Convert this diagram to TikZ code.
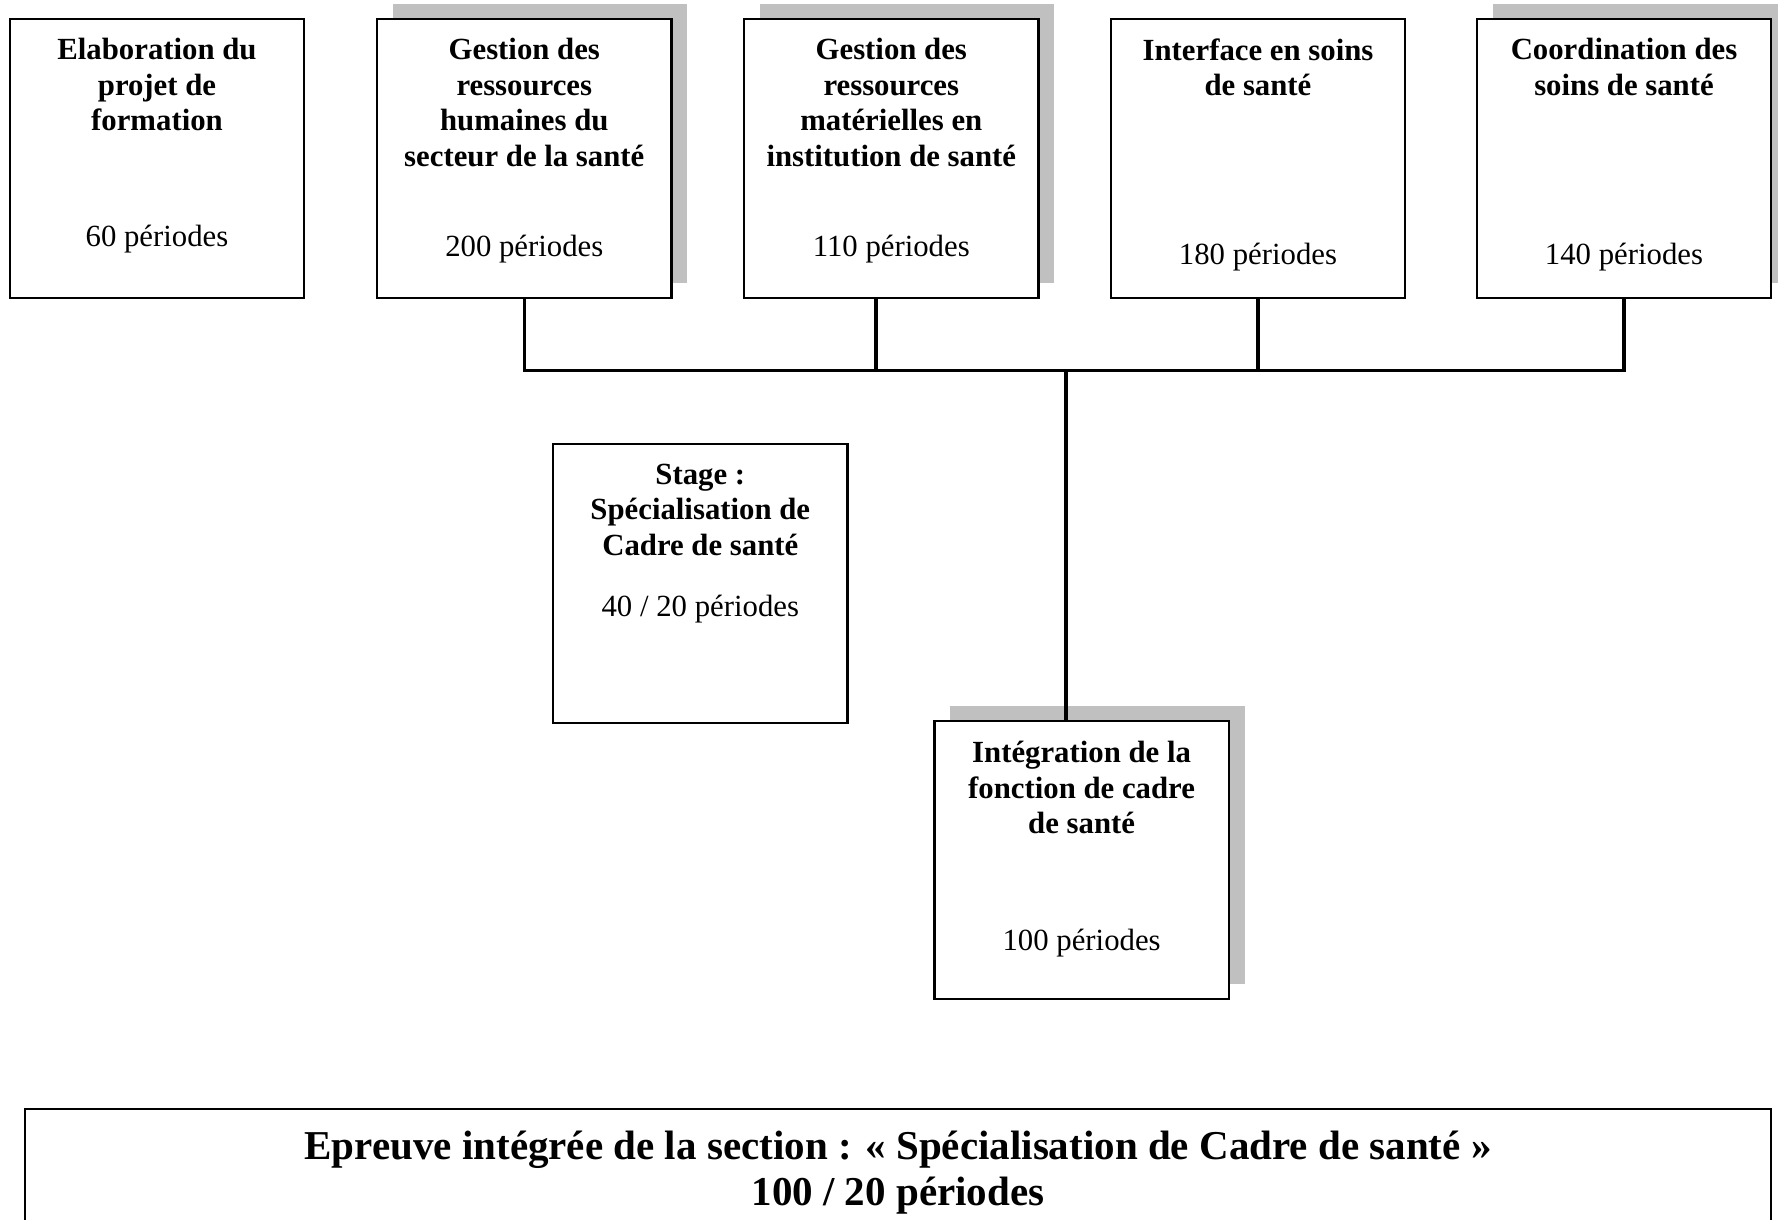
\documentclass[tikz,border=0pt]{standalone}
\usepackage{fontspec}
\setmainfont{Liberation Serif}
\usetikzlibrary{shadows}
\definecolor{shadowgray}{RGB}{192,192,192}

\begin{document}
\begin{tikzpicture}[x=0.39pt, y=-0.39pt,
  box/.style={draw, line width=0.9pt, fill=white, inner sep=0pt,
    minimum width=114.7pt, minimum height=108.6pt},
  shadowed/.style={box, general shadow={shadow xshift=6.2pt, shadow yshift=5.9pt, fill=shadowgray}},
  title/.style={font=\fontsize{12}{13.8}\selectfont\bfseries, align=center, inner sep=0pt, anchor=north},
  period/.style={font=\fontsize{12}{13.8}\selectfont, inner sep=0pt, anchor=base},
  link/.style={line width=1.2pt}]

% Page size (pixels of the scan)
\useasboundingbox (0,0) rectangle (1778,1220);

% Top row of modules (y of the row and of the bus line):
\def\rowy{158.5}
\def\busy{370.5}

%--- Module boxes ---
\node[box]      (elab)      at (157,\rowy)   {};
\node[shadowed] (rh)        at (524.3,\rowy) {};
\node[shadowed] (rm)        at (891.3,\rowy) {};
\node[box]      (interface) at (1258,\rowy)  {};
\node[shadowed] (coord)     at (1624,\rowy)  {};
\node[box]      (stage)     at (700.3,583.5) {};
\node[shadowed] (integ)     at (1081.6,860)  {};

%--- Titles ---
\node[title] (elabT)      at (157,38)    {Elaboration du\\projet de\\formation};
\node[title] (rhT)        at (524.3,38)  {Gestion des\\ressources\\humaines du\\secteur de la santé};
\node[title] (rmT)        at (891.3,38)  {Gestion des\\ressources\\matérielles en\\institution de santé};
\node[title] (interfaceT) at (1258,38)   {Interface en soins\\de santé};
\node[title] (coordT)     at (1624,38)   {Coordination des\\soins de santé};
\node[title] (stageT)     at (700.3,463.5) {Stage :\\Spécialisation de\\Cadre de santé};
\node[title] (integT)     at (1081.6,741)  {Intégration de la\\fonction de cadre\\de santé};

%--- Periods ---
\node[period] (elabP)      at (157,247)    {60 périodes};
\node[period] (rhP)        at (524.3,257)  {200 périodes};
\node[period] (rmP)        at (891.3,257)  {110 périodes};
\node[period] (interfaceP) at (1258,265)   {180 périodes};
\node[period] (coordP)     at (1624,265)   {140 périodes};
\node[period] (stageP)     at (700.3,616)  {40 / 20 périodes};
\node[period] (integP)     at (1081.6,950) {100 périodes};

%--- Bus line and drops ---
\coordinate (bus)    at (1066,\busy);
\coordinate (rmdrop) at (876,298);
\draw[link] (rh.south) -- (rh.south |- bus) -- (coord.south |- bus) -- (coord.south);
\draw[link] (rmdrop) -- (rmdrop |- bus);
\draw[link] (interface.south) -- (interface.south |- bus);
\draw[link] (bus) -- (bus |- integ.north);

%--- Final exam (runs off the bottom of the page)
\node[draw, line width=0.9pt, inner sep=0pt, minimum width=681pt, minimum height=45.2pt]
  (epreuve) at (898,1167) {};
\node[title, font=\fontsize{16}{18}\selectfont\bfseries] (epreuveT) at (898,1130)
  {Epreuve intégrée de la section : « Spécialisation de Cadre de santé »\\100 / 20 périodes};

\end{tikzpicture}
\end{document}
